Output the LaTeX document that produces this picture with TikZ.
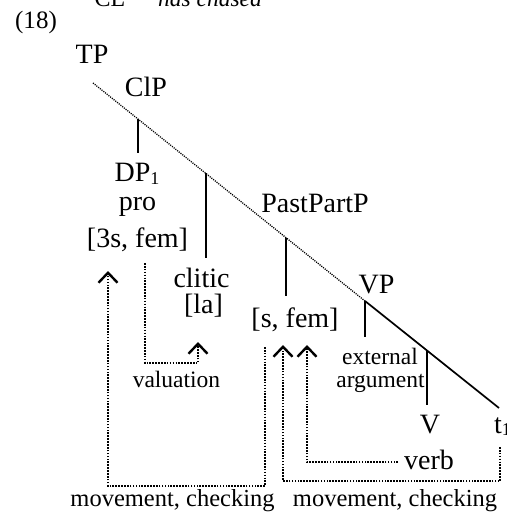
\documentclass[tikz,border=0pt]{standalone}
\usepackage{fontspec}
\setmainfont{Liberation Serif}
\usetikzlibrary{arrows.meta}
\tikzset{
  lbl/.style={inner sep=0pt, anchor=base, font=\fontsize{28}{30}\selectfont},
  sml/.style={inner sep=0pt, anchor=base, font=\fontsize{23.5}{23}\selectfont},
  mvt/.style={inner sep=0pt, anchor=base, font=\fontsize{24.5}{26}\selectfont},
  branch/.style={line width=1.7pt},
  spine/.style={line width=1.3pt, dash pattern=on 1.1pt off 1.1pt},
  link/.style={line width=1.9pt, dash pattern=on 1.6pt off 1.3pt,
    -{Straight Barb[length=10pt,width=19pt,line width=2.4pt]}}
}
\newcommand{\subone}{{\fontsize{18}{18}\selectfont\raisebox{-2.5pt}{1}}}
\begin{document}
\begin{tikzpicture}[x=1pt,y=-1pt]
\useasboundingbox (0,0) rectangle (506,518);
% cropped line above
\node[inner sep=0pt, anchor=base, font=\fontsize{24}{26}\selectfont] (cl) at (110,6.5) {CL};
\node[inner sep=0pt, anchor=base, font=\fontsize{23.5}{26}\selectfont\itshape] (hc) at (210,6.5) {has chased};
\node[inner sep=0pt, anchor=base, font=\fontsize{25}{26}\selectfont] (num) at (36,29) {(18)};
% tree labels
\node[lbl] (tp) at (92,64) {TP};
\node[lbl] (clp) at (146,97) {ClP};
\node[lbl] (dp) at (137,182) {DP\subone};
\node[lbl] (pro) at (137.5,211) {pro};
\node[lbl] (f3s) at (137.5,247) {[3s, fem]};
\node[lbl] (clitic) at (201.5,287) {clitic};
\node[lbl] (la) at (203.5,313) {[la]};
\node[lbl] (ppp) at (315,213) {PastPartP};
\node[lbl] (sfem) at (295,327) {[s, fem]};
\node[lbl] (vp) at (376.5,293) {VP};
\node[sml] (ext) at (380,364) {external};
\node[sml] (arg) at (380.5,387) {argument};
\node[lbl] (v) at (430,433) {V};
\node[lbl, anchor=base west] (t1) at (494,433) {t\subone};
\node[lbl] (verb) at (429,469) {verb};
\node[sml] (val) at (176.5,387) {valuation};
\node[mvt] (mc1) at (172.5,506) {movement, checking};
\node[mvt] (mc2) at (395,506) {movement, checking};
% spine
\coordinate (s0) at (93,83);
\coordinate (svp) at (365,301);
\coordinate (s9) at (499,408);
\coordinate (jcl) at (138,119);
\coordinate (jcli) at (206,173.5);
\coordinate (jpp) at (286,237.5);
\coordinate (jv) at (427,350.4);
\draw[spine] (s0) -- (svp);
\draw[branch] (svp) -- (s9);
\draw[branch] (jcl) -- (138,153);
\draw[branch] (jcli) -- (206,258);
\draw[branch] (jpp) -- (286,296);
\draw[branch] (svp) -- (365,337);
\draw[branch] (jv) -- (427,405);
% dotted links
\coordinate (m1s) at (265,347);
\coordinate (m1c) at (108,486);
\coordinate (m1t) at (108,271);
\draw[link] (m1s) |- (m1c) -- (m1t);
\coordinate (vas) at (145,263);
\coordinate (vac) at (198,363);
\coordinate (vat) at (198,342);
\draw[link] (vas) |- (vac) -- (vat);
\coordinate (m2s) at (500,447);
\coordinate (m2c) at (283,481);
\coordinate (m2t) at (283,345);
\draw[link] (m2s) |- (m2c) -- (m2t);
\coordinate (vbs) at (398,462);
\coordinate (vbt) at (307,345);
\draw[link] (vbs) -| (vbt);
\end{tikzpicture}
\end{document}
